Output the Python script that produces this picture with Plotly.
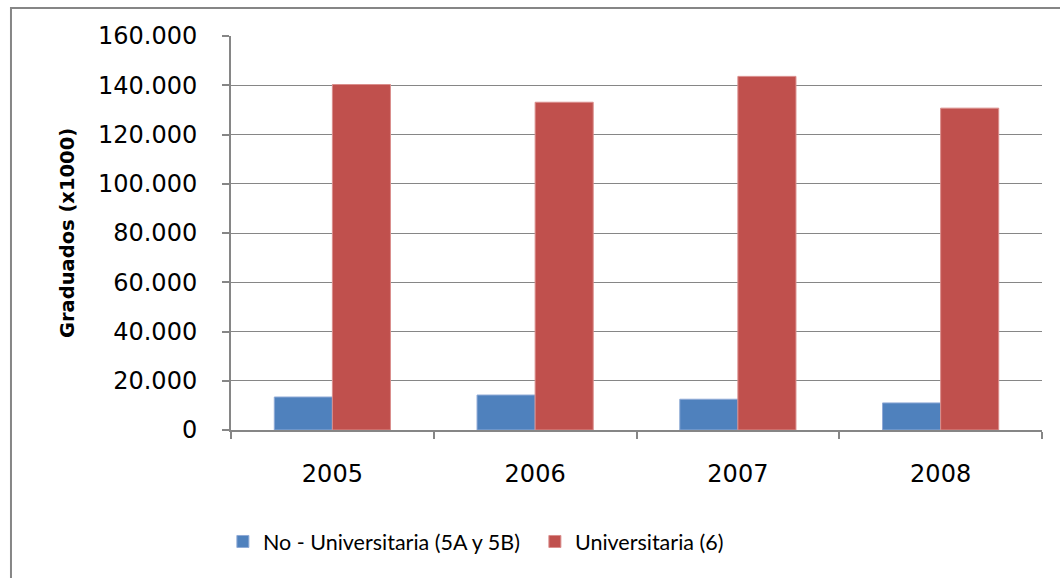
import plotly.graph_objects as go

# ---- datos (graduados x1000) ----
years = ["2005", "2006", "2007", "2008"]
no_universitaria = [13400, 14200, 12500, 11000]
universitaria = [140300, 133100, 143600, 130700]
y_ticks = [0, 20000, 40000, 60000, 80000, 100000, 120000, 140000, 160000]
y_tick_text = ["0", "20.000", "40.000", "60.000", "80.000", "100.000",
               "120.000", "140.000", "160.000"]

GRID = "#868686"
FONT = "DejaVu Sans"

fig = go.Figure()
fig.add_trace(go.Bar(
    x=years, y=no_universitaria, name="No - Universitaria (5A y 5B)",
    marker=dict(color="#4F81BD", line=dict(color="#8FAAD6", width=1)),
))
fig.add_trace(go.Bar(
    x=years, y=universitaria, name="Universitaria (6)",
    marker=dict(color="#C0504D", line=dict(color="#DA8E8C", width=1)),
))

fig.update_layout(
    width=1060, height=578,
    margin=dict(l=231, r=18, t=36, b=148),
    paper_bgcolor="white", plot_bgcolor="white",
    font=dict(family=FONT, size=24, color="black"),
    barmode="group", bargap=0.427, bargroupgap=0,
    showlegend=True,
    legend=dict(
        orientation="h", x=-0.01, xanchor="left", y=-0.283, yanchor="middle",
        font=dict(family="Lato", size=21.5), itemwidth=30, traceorder="normal",
        entrywidth=267, entrywidthmode="pixels",
        bgcolor="rgba(0,0,0,0)",
    ),
)

fig.update_yaxes(
    range=[0, 160000], tickvals=y_ticks, ticktext=y_tick_text,
    showgrid=True, gridcolor=GRID, gridwidth=1,
    showline=True, linecolor=GRID, linewidth=2,
    ticks="outside", ticklen=7, tickcolor=GRID, tickwidth=2,
    ticklabelstandoff=20, zeroline=False,
    title=dict(text="<b>Graduados (x1000)</b>", standoff=18,
               font=dict(family=FONT, size=19.5)),
)
fig.update_xaxes(
    showline=True, linecolor=GRID, linewidth=2,
    ticks="outside", ticklen=7, tickcolor=GRID, tickwidth=2,
    tickson="boundaries", ticklabelstandoff=21, showgrid=False,
)

# marco exterior del gráfico (estilo Excel)
fig.add_shape(
    type="rect", xref="paper", yref="paper",
    x0=-0.2713, x1=1.2, y0=-0.6, y1=1.0711,
    line=dict(color=GRID, width=2), layer="below",
)

# quitar el margen por defecto del <body> para que la figura empiece en (0, 0)
fig.write_html(
    "out.html",
    config={"displayModeBar": False},
    post_script="document.body.style.margin='0';",
)
